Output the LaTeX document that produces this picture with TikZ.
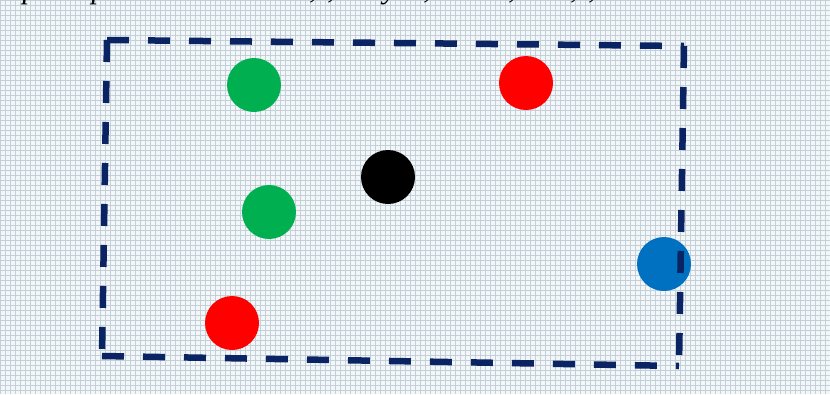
\documentclass[tikz,border=0pt]{standalone}
\usepackage{fontspec}
\setmainfont{Liberation Serif}
\definecolor{bgc}{RGB}{244,247,249}
\definecolor{gridc}{RGB}{196,208,216}
\definecolor{navy}{RGB}{10,36,99}
\definecolor{gr}{RGB}{0,176,80}
\definecolor{bl}{RGB}{0,112,192}
\begin{document}
\begin{tikzpicture}[x=1pt,y=-1pt,
  dot/.style={circle,minimum size=54pt,inner sep=0pt,draw=none},
  frag/.style={anchor=base,inner sep=0pt,font=\fontsize{30}{30}\selectfont\itshape},
  frame/.style={draw=navy,line width=6.5pt,dash pattern=on 22pt off 19pt}]
\useasboundingbox (0,0) rectangle (830,394);
\fill[bgc] (0,0) rectangle (830,394);
\draw[gridc,line width=0.6pt,step=5pt] (0,0) grid (830,394);
% cut-off top text line
\begin{scope}
\clip (0,0) rectangle (830,394);
\node[frag] (t1) at (30,-1.5) {p};
\node[frag] (t2) at (99,-1.5) {p};
\node[frag] (t3) at (313,-1.5) {,};
\node[frag] (t4) at (331,-1.5) {,};
\node[frag] (t5) at (390,-1.5) {y};
\node[frag] (t6) at (427,-1.5) {,};
\node[frag] (t7) at (512,-1.5) {,};
\node[frag] (t8) at (574,-1.5) {,};
\node[frag] (t9) at (592,-1.5) {,};
\end{scope}
% dots
\node[dot,fill=gr] (g1) at (254,85) {};
\node[dot,fill=red] (r1) at (526,83) {};
\node[dot,fill=black] (k1) at (388,177) {};
\node[dot,fill=gr] (g2) at (269,212) {};
\node[dot,fill=bl] (b1) at (664,264) {};
\node[dot,fill=red] (r2) at (232,323) {};
% dashed frame
\coordinate (c1) at (107,40);
\coordinate (c2) at (684,46);
\coordinate (c3) at (679,366);
\coordinate (c4) at (102,356);
\draw[frame] (c1) -- (c2);
\draw[frame] (c2) -- (c3);
\draw[frame] (c4) -- (c3);
\draw[frame] (c1) -- (c4);
\end{tikzpicture}
\end{document}
